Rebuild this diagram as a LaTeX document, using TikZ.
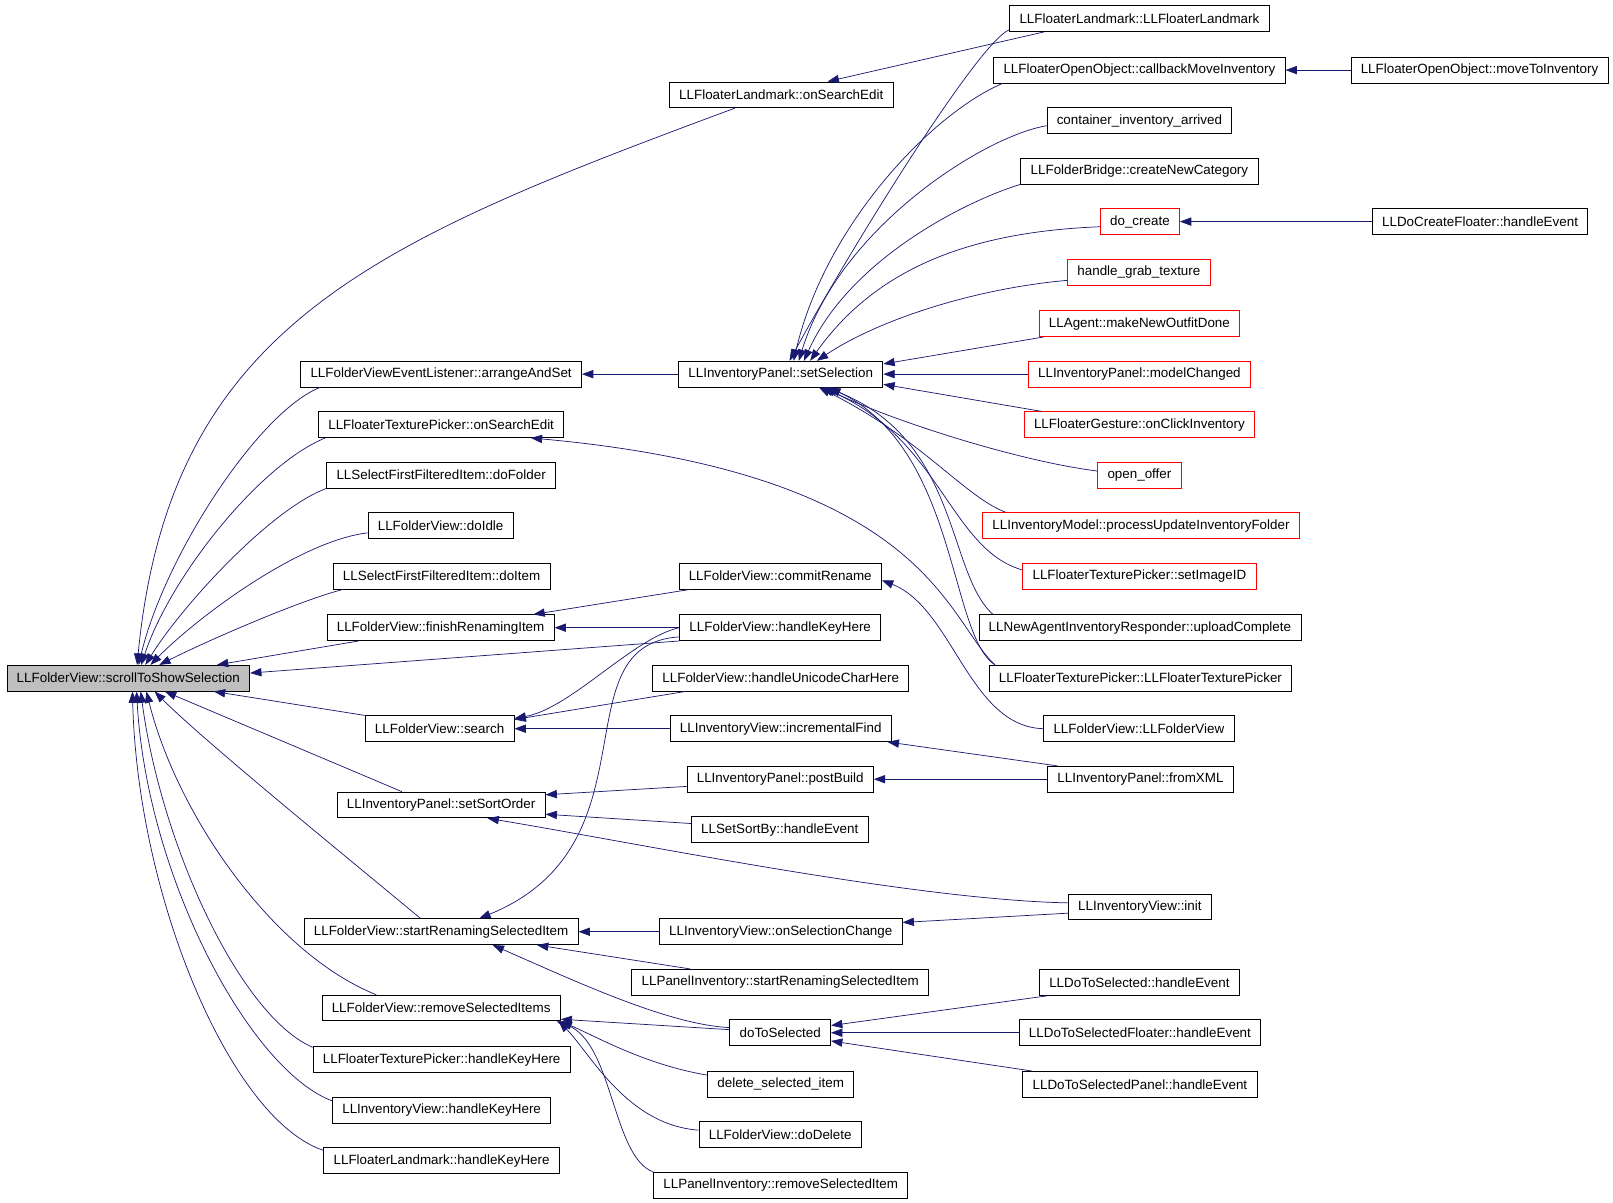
\documentclass[tikz,border=0pt]{standalone}
\usepackage{fontspec}
\setmainfont{Liberation Sans}
\usetikzlibrary{arrows.meta}

\definecolor{edgeblue}{RGB}{25,25,112}
\definecolor{rootgray}{RGB}{191,191,191}

\begin{document}
\begin{tikzpicture}[x=1pt,y=-1pt]
    \tikzstyle{fn}=[draw=black, line width=0.8pt, minimum height=25pt, inner xsep=9.5pt, inner ysep=0pt, font=\fontsize{13}{15}\selectfont];
    \tikzstyle{trunc}=[fn, draw=red];
    \tikzstyle{root}=[fn, fill=rootgray];
    \tikzstyle{edge}=[draw=edgeblue, line width=0.7pt, -{Triangle[length=11pt,width=8pt]}];
    \useasboundingbox (0,0) rectangle (1565,1167);
    % root
    \node[root] (scroll) at (124.5,658) {LLFolderView::scrollToShowSelection};
    % first column of callers
    \node[fn] (arrange) at (428,363) {LLFolderViewEventListener::arrangeAndSet};
    \node[fn] (texSearch) at (428,412) {LLFloaterTexturePicker::onSearchEdit};
    \node[fn] (doFolder) at (428,461) {LLSelectFirstFilteredItem::doFolder};
    \node[fn] (doIdle) at (427.5,510) {LLFolderView::doIdle};
    \node[fn] (doItem) at (428.5,559) {LLSelectFirstFilteredItem::doItem};
    \node[fn] (finish) at (427.5,609) {LLFolderView::finishRenamingItem};
    \node[fn] (search) at (426.5,707) {LLFolderView::search};
    \node[fn] (sortOrder) at (428,781) {LLInventoryPanel::setSortOrder};
    \node[fn] (startRen) at (428,904) {LLFolderView::startRenamingSelectedItem};
    \node[fn] (removeSel) at (428,978) {LLFolderView::removeSelectedItems};
    \node[fn] (texKey) at (428.5,1028) {LLFloaterTexturePicker::handleKeyHere};
    \node[fn] (invKey) at (428.5,1077) {LLInventoryView::handleKeyHere};
    \node[fn] (lmKey) at (428.5,1126) {LLFloaterLandmark::handleKeyHere};
    % second column
    \node[fn] (lmSearch) at (758,92) {LLFloaterLandmark::onSearchEdit};
    \node[fn] (setSel) at (757.5,363) {LLInventoryPanel::setSelection};
    \node[fn] (commit) at (757,559) {LLFolderView::commitRename};
    \node[fn] (handleKey) at (757,609) {LLFolderView::handleKeyHere};
    \node[fn] (unicode) at (757.5,658) {LLFolderView::handleUnicodeCharHere};
    \node[fn] (incFind) at (757.5,707) {LLInventoryView::incrementalFind};
    \node[fn] (postBuild) at (757,756) {LLInventoryPanel::postBuild};
    \node[fn] (sortBy) at (756.5,805) {LLSetSortBy::handleEvent};
    \node[fn] (selChange) at (757.5,904) {LLInventoryView::onSelectionChange};
    \node[fn] (panelRen) at (757,953) {LLPanelInventory::startRenamingSelectedItem};
    \node[fn] (doToSel) at (757,1002) {doToSelected};
    \node[fn] (delSel) at (757.5,1052) {delete\_selected\_item};
    \node[fn] (doDelete) at (757,1101) {LLFolderView::doDelete};
    \node[fn] (panelRemove) at (757.5,1150) {LLPanelInventory::removeSelectedItem};
    % third column
    \node[fn] (lmCtor) at (1105.5,18) {LLFloaterLandmark::LLFloaterLandmark};
    \node[fn] (callbackMove) at (1105.5,68) {LLFloaterOpenObject::callbackMoveInventory};
    \node[fn] (contArr) at (1105.5,117) {container\_inventory\_arrived};
    \node[fn] (createCat) at (1105.5,166) {LLFolderBridge::createNewCategory};
    \node[trunc] (doCreate) at (1106,215) {do\_create};
    \node[trunc] (grabTex) at (1105,264) {handle\_grab\_texture};
    \node[trunc] (outfit) at (1105.5,314) {LLAgent::makeNewOutfitDone};
    \node[trunc] (modelChg) at (1105.5,363) {LLInventoryPanel::modelChanged};
    \node[trunc] (gesture) at (1105.5,412) {LLFloaterGesture::onClickInventory};
    \node[trunc] (openOffer) at (1105.5,461) {open\_offer};
    \node[trunc] (procUpd) at (1107,510) {LLInventoryModel::processUpdateInventoryFolder};
    \node[trunc] (setImg) at (1105.5,559) {LLFloaterTexturePicker::setImageID};
    \node[fn] (upload) at (1106,609) {LLNewAgentInventoryResponder::uploadComplete};
    \node[fn] (texCtor) at (1106.5,658) {LLFloaterTexturePicker::LLFloaterTexturePicker};
    \node[fn] (fvCtor) at (1105,707) {LLFolderView::LLFolderView};
    \node[fn] (fromXML) at (1106.5,756) {LLInventoryPanel::fromXML};
    \node[fn] (invInit) at (1106,880) {LLInventoryView::init};
    \node[fn] (dtsEvent) at (1105.5,953) {LLDoToSelected::handleEvent};
    \node[fn] (dtsFloater) at (1106,1002) {LLDoToSelectedFloater::handleEvent};
    \node[fn] (dtsPanel) at (1106,1052) {LLDoToSelectedPanel::handleEvent};
    % fourth column
    \node[fn] (openObjMove) at (1435.5,68) {LLFloaterOpenObject::moveToInventory};
    \node[fn] (createFloater) at (1436,215) {LLDoCreateFloater::handleEvent};

    % callers of scrollToShowSelection
    \draw[edge] ([xshift=-45pt]lmSearch.south) .. controls +(-350,130) and +(32,-330) .. ([xshift=8.5pt]scroll.north);
    \draw[edge] ([xshift=19pt]arrange.south west) .. controls +(-60,24) and +(25,-105) .. ([xshift=10pt]scroll.north);
    \draw[edge] ([xshift=7pt]texSearch.south west) .. controls +(-64,26) and +(28,-85) .. ([xshift=12.5pt]scroll.north);
    \draw[edge] (doFolder.south west) .. controls +(-56,21) and +(34,-55) .. ([xshift=16.5pt]scroll.north);
    \draw[edge] ([yshift=-7pt]doIdle.west) .. controls +(-67,8) and +(44,-45) .. ([xshift=21.5pt]scroll.north);
    \draw[edge] ([xshift=10pt]doItem.south west) .. controls +(-40,10) and +(50,-25) .. ([xshift=30pt]scroll.north);
    \draw[edge] ([xshift=31pt]finish.south west) -- ([xshift=86pt]scroll.north);
    \draw[edge] (handleKey.south west) -- ([yshift=5pt]scroll.east);
    \draw[edge] (search.north west) -- ([xshift=83pt]scroll.south);
    \draw[edge] ([xshift=-38pt]sortOrder.north) -- ([xshift=35.5pt]scroll.south);
    \draw[edge] ([xshift=-20pt]startRen.north) .. controls +(-60,-50) and +(50,50) .. ([xshift=25.5pt]scroll.south);
    \draw[edge] ([xshift=-63pt]removeSel.north) .. controls +(-100,-40) and +(30,120) .. ([xshift=17.5pt]scroll.south);
    \draw[edge] ([yshift=-1pt]texKey.north west) .. controls +(-70,-30) and +(20,150) .. ([xshift=12pt]scroll.south);
    \draw[edge] ([yshift=-4pt]invKey.north west) .. controls +(-80,-30) and +(10,180) .. ([xshift=8pt]scroll.south);
    \draw[edge] ([yshift=-3pt]lmKey.north west) .. controls +(-90,-30) and +(5,200) .. ([xshift=4pt]scroll.south);

    % callers of setSelection
    \draw[edge] ([yshift=2pt]lmCtor.south west) .. controls +(-30,12) and +(60,-110) .. ([xshift=8.5pt]setSel.north);
    \draw[edge] ([xshift=9pt]callbackMove.south west) .. controls +(-70,30) and +(30,-130) .. ([xshift=12.5pt]setSel.north);
    \draw[edge] ([yshift=-5pt]contArr.west) .. controls +(-60,10) and +(40,-130) .. ([xshift=17.5pt]setSel.north);
    \draw[edge] (createCat.south west) .. controls +(-50,15) and +(45,-100) .. ([xshift=22.5pt]setSel.north);
    \draw[edge] ([yshift=-5pt]doCreate.west) .. controls +(-126,5) and +(64,-90) .. ([xshift=28.5pt]setSel.north);
    \draw[edge] ([yshift=-8pt]grabTex.west) .. controls +(-90,8) and +(60,-40) .. ([xshift=35pt]setSel.north);
    \draw[edge] ([xshift=5pt]outfit.south west) -- ([yshift=-3pt]setSel.north east);
    \draw[edge] (modelChg) -- (setSel);
    \draw[edge] ([xshift=17pt]gesture.north west) -- ([yshift=3pt]setSel.south east);
    \draw[edge] ([yshift=4pt]openOffer.west) .. controls +(-80,-10) and +(60,30) .. ([xshift=42pt]setSel.south);
    \draw[edge] ([xshift=23pt]procUpd.north west) .. controls +(-40,-15) and +(100,50) .. ([xshift=37pt]setSel.south);
    \draw[edge] ([yshift=6pt]setImg.west) .. controls +(-70,-20) and +(115,50) .. ([xshift=40pt]setSel.south);
    \draw[edge] ([xshift=14pt]upload.north west) .. controls +(-45,-40) and +(130,50) .. ([xshift=44pt]setSel.south);
    \draw[edge] ([xshift=6pt]texCtor.north west) .. controls +(-45,-30) and +(125,60) .. ([xshift=47pt]setSel.south);

    % the other calls
    \draw[edge] ([xshift=6pt]texCtor.north west) .. controls +(-48,-45) and +(385,35) .. ([xshift=87pt]texSearch.south);
    \draw[edge] (setSel) -- (arrange);
    \draw[edge] ([xshift=34pt]lmCtor.south west) -- ([xshift=45pt]lmSearch.north);
    \draw[edge] (openObjMove) -- (callbackMove);
    \draw[edge] (createFloater) -- (doCreate);
    \draw[edge] ([xshift=11pt]commit.south west) -- ([xshift=90pt]finish.north);
    \draw[edge] (handleKey) -- (finish);
    \draw[edge] (fvCtor.west) .. controls +(-72,-2) and +(69,27) .. ([yshift=-4pt]commit.east);
    \draw[edge] (handleKey.west) .. controls +(-45,10) and +(55,-10) .. ([yshift=-3pt]search.north east);
    \draw[edge] ([yshift=4pt]handleKey.south west) .. controls +(-118,7.5) and +(175,-71.5) .. ([xshift=37pt]startRen.north);
    \draw[edge] ([xshift=32pt]unicode.south west) -- ([yshift=-4pt]search.north east);
    \draw[edge] (incFind) -- (search);
    \draw[edge] ([xshift=10pt]fromXML.north west) -- ([xshift=-4pt]incFind.south east);
    \draw[edge] (fromXML) -- (postBuild);
    \draw[edge] ([yshift=-7pt]postBuild.west) -- ([yshift=-3pt]sortOrder.north east);
    \draw[edge] ([yshift=6pt]sortBy.west) -- ([yshift=-9pt]sortOrder.east);
    \draw[edge] ([yshift=4pt]invInit.west) .. controls +(-150,-3) and +(150,25) .. ([xshift=45pt]sortOrder.south);
    \draw[edge] (selChange) -- (startRen);
    \draw[edge] ([yshift=-6pt]invInit.west) -- ([yshift=9pt]selChange.east);
    \draw[edge] ([xshift=57pt]panelRen.north west) -- ([xshift=93pt]startRen.south);
    \draw[edge] ([yshift=5pt]doToSel.west) .. controls +(-60,-3) and +(80,35) .. ([xshift=50pt]startRen.south);
    \draw[edge] ([yshift=3pt]doToSel.west) -- ([yshift=2pt]removeSel.south east);
    \draw[edge] ([yshift=-4pt]delSel.north west) .. controls +(-60,-10) and +(35,15) .. (removeSel.south east);
    \draw[edge] ([yshift=4.5pt]doDelete.west) .. controls +(-70,-5) and +(30,30) .. ([xshift=-2pt]removeSel.south east);
    \draw[edge] (panelRemove.north west) .. controls +(-40,-15) and +(55,20) .. ([xshift=-4pt]removeSel.south east);
    \draw[edge] ([xshift=10pt]dtsEvent.south west) -- ([yshift=7pt]doToSel.east);
    \draw[edge] (dtsFloater) -- (doToSel);
    \draw[edge] ([xshift=9pt]dtsPanel.north west) -- ([yshift=-8pt]doToSel.east);
\end{tikzpicture}
\end{document}
